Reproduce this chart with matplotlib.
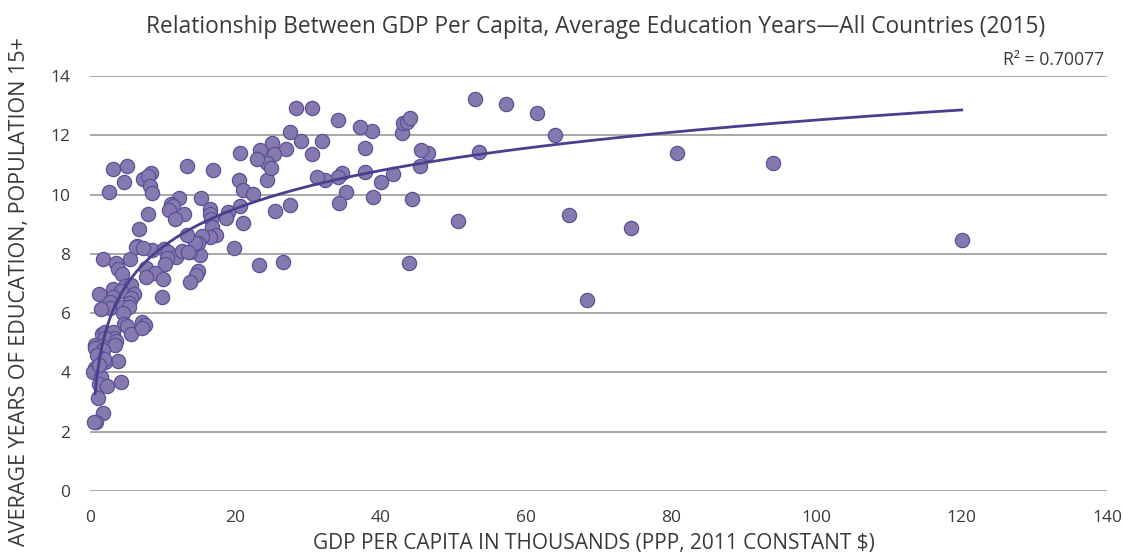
import numpy as np
import matplotlib
matplotlib.use("Agg")
import matplotlib.pyplot as plt

plt.rcParams['font.family'] = ['Open Sans', 'DejaVu Sans']

title = "Relationship Between GDP Per Capita, Average Education Years\u2014All Countries (2015)"
x_label = "GDP PER CAPITA IN THOUSANDS (PPP, 2011 CONSTANT $)"
y_label = "AVERAGE YEARS OF EDUCATION, POPULATION 15+"
r2_label = "R\u00b2 = 0.70077"
x_ticks = [0, 20, 40, 60, 80, 100, 120, 140]
y_ticks = [0, 2, 4, 6, 8, 10, 12, 14]

# GDP per capita (thousands), average education years
gdp = [
    120.0, 94.0, 80.8, 74.5, 65.9, 68.4, 64.0, 61.5, 57.3, 53.0, 53.6, 50.7,
    46.5, 45.6, 45.4, 44.3, 43.9, 43.0, 43.1, 43.7, 44.0,
    41.7, 40.1, 38.9, 37.9, 37.9, 38.8, 37.2, 34.1, 34.7, 34.2, 35.3, 34.3,
    32.3, 31.2, 32.0, 30.5, 30.6, 28.3, 29.0, 27.5, 27.0, 27.5, 25.5, 26.6,
    25.1, 25.3, 24.3, 24.4, 24.9, 23.4, 23.0, 20.7, 16.9, 13.3,
    20.5, 21.0, 22.5, 15.3, 16.5, 16.5, 20.6, 19.0, 18.7, 16.6, 16.8, 21.0,
    17.3, 16.5, 15.4, 19.8, 23.3, 15.2, 14.9, 13.8, 14.9, 14.6, 13.8, 14.4,
    3.2, 5.1, 4.7, 2.6, 8.4, 7.3, 8.0, 8.2, 8.5, 12.3, 11.1, 11.4, 10.9, 12.9,
    11.7, 8.0, 6.8, 6.5, 8.6, 13.3,
    1.8, 5.5, 3.6, 3.9, 4.4, 6.4, 7.3, 10.2, 10.7, 11.9, 12.6, 13.5, 10.6,
    10.3, 7.7, 9.0, 7.7, 10.0, 9.9, 1.3, 3.2, 4.8, 5.7, 4.3, 3.1, 6.1, 5.7,
    5.4, 2.7, 2.8, 1.5, 4.6, 5.3, 4.6, 4.7, 5.1, 5.7, 7.2, 7.6, 7.2, 1.6,
    2.0, 3.2, 3.3, 2.1, 0.7, 3.6, 1.7, 1.5,
    3.4, 3.8, 0.7, 0.45, 2.1, 1.5, 1.24, 2.3, 4.3, 1.06, 1.8, 0.8, 0.6, 0.7,
    1.8, 1.0, 1.9, 1.2,
]
edu = [
    8.47, 11.07, 11.40, 8.87, 9.30, 6.44, 12.00, 12.75, 13.05, 13.22, 11.44, 9.10,
    11.40, 11.50, 10.96, 9.85, 7.69, 12.07, 12.40, 12.45, 12.58,
    10.70, 10.44, 9.92, 10.76, 11.56, 12.14, 12.28, 12.50, 10.73, 10.60, 10.10, 9.71,
    10.49, 10.60, 11.80, 11.36, 12.91, 12.93, 11.80, 12.12, 11.54, 9.64, 9.45, 7.74,
    11.73, 11.36, 10.49, 11.06, 10.91, 11.50, 11.19, 11.39, 10.82, 10.95,
    10.50, 10.16, 10.02, 9.87, 9.50, 9.34, 9.60, 9.42, 9.22, 9.19, 8.90, 9.05,
    8.64, 8.58, 8.60, 8.21, 7.64, 7.97, 8.38, 8.07, 7.43, 7.29, 7.06, 8.36,
    10.87, 10.98, 10.44, 10.10, 10.73, 10.52, 10.62, 10.30, 10.04, 9.88, 9.67, 9.60, 9.48, 9.36,
    9.17, 9.36, 8.83, 8.27, 8.13, 8.63,
    7.82, 7.82, 7.68, 7.49, 7.31, 8.24, 8.19, 8.16, 8.05, 7.90, 8.10, 8.05, 7.85,
    7.66, 7.51, 7.34, 7.23, 7.14, 6.54, 6.64, 6.80, 6.93, 6.95, 6.75, 6.56, 6.65, 6.50,
    6.35, 6.39, 6.16, 6.13, 6.21, 6.22, 6.00, 5.63, 5.57, 5.29, 5.71, 5.60, 5.50, 5.29,
    5.35, 5.35, 5.17, 5.15, 4.93, 5.07, 4.90, 4.72,
    4.93, 4.39, 4.14, 4.03, 4.36, 3.85, 3.60, 3.55, 3.68, 3.13, 2.64, 2.32, 2.32, 4.81,
    4.76, 4.60, 4.45, 4.25,
]

# logarithmic trend line y = a*ln(x) + b, as shown on the chart
trend_a = 1.86
trend_b = 3.95
trend_x_range = [0.7, 120.0]

x = np.array(gdp)
y = np.array(edu)
xs = np.linspace(trend_x_range[0], trend_x_range[1], 400)
ys = trend_a * np.log(xs) + trend_b

fig = plt.figure(figsize=(11.23, 5.55), dpi=100)
ax = fig.add_axes([90/1123, 1-491/555, (1107-90)/1123, (491-76)/555])

text_color = '#3a3a3a'
grid_color = '#a8a8a8'

ax.set_xlim(0, 140)
ax.set_ylim(0, 14)
ax.set_xticks(x_ticks)
ax.set_yticks(y_ticks)
ax.grid(axis='y', color=grid_color, linewidth=1.4, zorder=0)
ax.set_axisbelow(True)
for s in ax.spines.values():
    s.set_visible(False)
ax.tick_params(length=0, labelsize=12.5, labelcolor=text_color)
ax.tick_params(axis='x', pad=14)
ax.tick_params(axis='y', pad=14)

ax.scatter(x, y, s=105, facecolor='#8579b0', edgecolor='#5c5196', linewidth=0.9,
           zorder=3, clip_on=False)
ax.plot(xs, ys, color='#4a3f8c', linewidth=2.0, zorder=4)

fig.text(596/1123, 1-27/555, title, ha='center', va='center', fontsize=16.4, color=text_color)
fig.text(1104/1123, 1-60/555, r2_label, ha='right', va='center', fontsize=12.7, color=text_color)
fig.text(20/1123, 1-292/555, y_label, ha='center', va='center', rotation=90, fontsize=15.5, color=text_color)
fig.text(594/1123, 1-544/555, x_label, ha='center', va='center', fontsize=15.0, color=text_color)

fig.savefig('out.png', dpi=100)
